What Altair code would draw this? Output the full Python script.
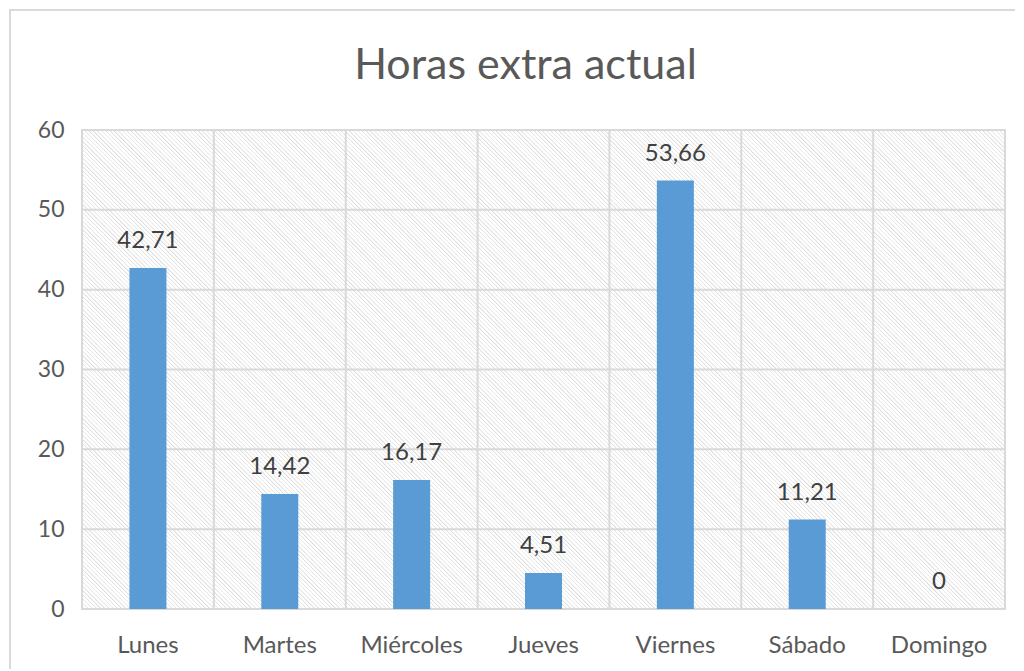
import altair as alt
import pandas as pd

days = ["Lunes", "Martes", "Miércoles", "Jueves", "Viernes", "Sábado", "Domingo"]
hours = [42.71, 14.42, 16.17, 4.51, 53.66, 11.21, 0]
labels = ["42,71", "14,42", "16,17", "4,51", "53,66", "11,21", "0"]
y_ticks = [0, 10, 20, 30, 40, 50, 60]

df = pd.DataFrame({"day": days, "hours": hours, "label": labels})
df_ticks = pd.DataFrame({"tick": y_ticks})

W, H = 923, 479
FONT = "Lato"
TXT = "#595959"
GRID = "#d9d9d9"

# diagonal hatch as a repeating linear gradient (style only)
g = (1.0, -H / W)
k = (1 + H / W) / (g[0] ** 2 + g[1] ** 2)
x1, y1 = 0.0, 1.0
x2, y2 = x1 + k * g[0], y1 + k * g[1]
period_px = 4.2
n = int(round((W + H) / period_px))
stops = []
for i in range(n):
    a = i / n
    b = (i + 0.4) / n
    c = (i + 0.5) / n
    d = (i + 0.85) / n
    stops += [
        alt.GradientStop(offset=a, color="#ffffff"),
        alt.GradientStop(offset=b, color="#ffffff"),
        alt.GradientStop(offset=c, color="#dadada"),
        alt.GradientStop(offset=d, color="#ffffff"),
    ]
stops.append(alt.GradientStop(offset=1.0, color="#ffffff"))
hatch = alt.LinearGradient(gradient="linear", stops=stops, x1=x1, y1=y1, x2=x2, y2=y2)

base = alt.Chart(df)

frame = base.mark_rect(filled=False, stroke=GRID, strokeWidth=2).encode(
    x=alt.value(-72), x2=alt.value(960), y=alt.value(-120), y2=alt.value(600)
)

bg = base.mark_rect(fill=hatch, stroke=GRID, strokeWidth=2).encode(
    x=alt.value(0), x2=alt.value(W), y=alt.value(0), y2=alt.value(H)
)

x_scale = alt.Scale(paddingInner=0, paddingOuter=0)
y_scale = alt.Scale(domain=[0, 60])
x_axis = alt.Axis(
    grid=False,
    domain=False,
    ticks=False,
    bandPosition=0.5,
    labelAngle=0,
    labelFont=FONT,
    labelFontSize=24,
    labelColor=TXT,
    labelPadding=24,
    title=None,
)
y_axis = alt.Axis(
    values=y_ticks,
    grid=False,
    domain=False,
    ticks=False,
    labelFont=FONT,
    labelFontSize=23,
    labelColor=TXT,
    labelPadding=18,
    title=None,
)

hgrid = alt.Chart(df_ticks).mark_rule(color=GRID, strokeWidth=2).encode(
    y=alt.Y("tick:Q", scale=y_scale, axis=y_axis)
)
vgrid = base.mark_rule(color=GRID, strokeWidth=2).encode(
    x=alt.X("day:N", sort=days, bandPosition=0, scale=x_scale, axis=x_axis)
)

bars = base.mark_bar(color="#5b9bd5", size=37).encode(
    x=alt.X("day:N", sort=days, scale=x_scale, axis=x_axis),
    y=alt.Y("hours:Q", scale=y_scale, axis=y_axis),
)

text = base.mark_text(
    font=FONT, fontSize=24, color="#404040", baseline="alphabetic", dy=-20
).encode(
    x=alt.X("day:N", sort=days, scale=x_scale, axis=x_axis),
    y=alt.Y("hours:Q", scale=y_scale, axis=y_axis),
    text="label:N",
)

chart = (
    alt.layer(frame, bg, hgrid, vgrid, bars, text)
    .properties(
        width=W,
        height=H,
        autosize=alt.AutoSizeParams(type="none"),
        padding={"left": 74, "top": 122, "right": 10, "bottom": 60},
        title=alt.TitleParams(
            "Horas extra actual",
            font=FONT,
            fontSize=43,
            fontWeight="normal",
            color=TXT,
            anchor="middle",
            baseline="bottom",
            offset=-122,
            dx=-18,
        ),
    )
    .configure_view(stroke=None)
    .configure(background="white")
)

chart.save("out.html", embed_options={"renderer": "svg", "actions": False})
